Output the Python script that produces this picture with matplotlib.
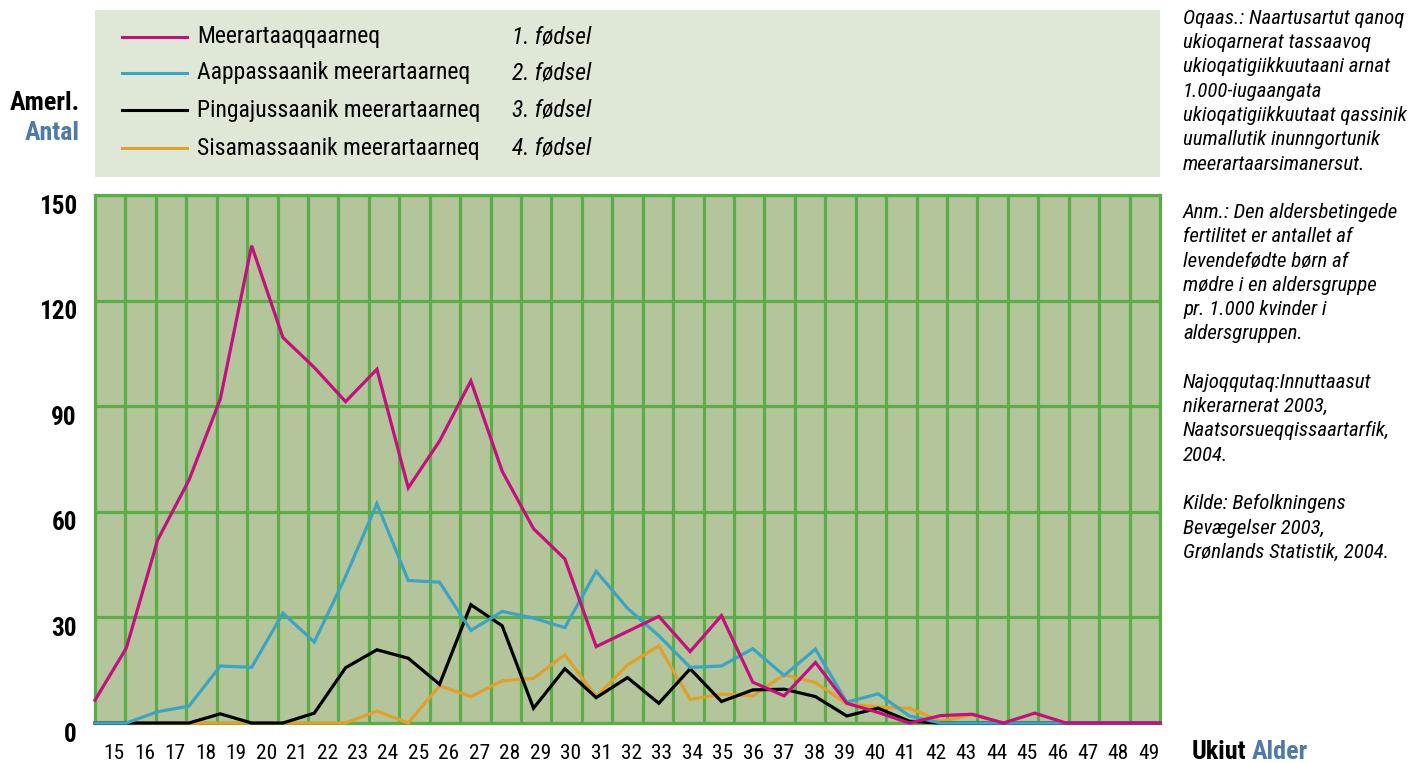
import numpy as np
import matplotlib
matplotlib.use("Agg")
import matplotlib.pyplot as plt
from matplotlib import font_manager
from matplotlib.lines import Line2D
from matplotlib.patches import Rectangle
import matplotlib.transforms as mtransforms

# Age-specific fertility by birth order, per 1000 women
ages = list(range(15, 50))
first_birth = [6.5, 21.3, 52, 69, 92, 135.6, 109.5, 101, 91.3, 100.5,
               66.8, 80.1, 97.2, 71.5, 55.2, 46.6, 21.7, 26, 30.3, 20.3,
               30.5, 11.6, 7.7, 17.2, 5.6, 3, 0, 2.1, 2.5, 0,
               2.8, 0, 0, 0, 0]
second_birth = [0, 0, 3.2, 4.8, 16.2, 15.8, 31.2, 23, 41.6, 62.3,
                40.5, 40, 26.3, 31.7, 29.8, 27.1, 43.1, 32.6, 24.8, 15.8,
                16.2, 21.1, 13.5, 21, 5.9, 8.3, 2, 0, 0, 0,
                0, 0, 0, 0, 0]
third_birth = [0, 0, 0, 0, 2.6, 0, 0, 2.8, 15.7, 20.8,
               18.4, 11, 33.6, 27.6, 4.2, 15.4, 7.2, 12.9, 5.6, 15.4,
               6.1, 9.4, 9.6, 7.5, 2, 4.2, 0.5, 0, 0, 0,
               0, 0, 0, 0, 0]
fourth_birth = [0, 0, 0, 0, 0, 0, 0, 0, 0, 3.4,
                0, 10.6, 7.5, 12, 12.7, 19.4, 7.5, 16.5, 21.9, 6.7,
                8.2, 7.7, 13.7, 11.5, 5.5, 4.5, 4.2, 0.5, 2.3, 0,
                0, 0, 0, 0, 0]

labels_kl = ["Meerartaaqqaarneq", "Aappassaanik meerartaarneq",
             "Pingajussaanik meerartaarneq", "Sisamassaanik meerartaarneq"]
labels_da = ["1. fødsel", "2. fødsel", "3. fødsel", "4. fødsel"]
y_ticks = [0, 30, 60, 90, 120, 150]

notes = ("Oqaas.: Naartusartut qanoq\nukioqarnerat tassaavoq\n"
         "ukioqatigiikkuutaani arnat\n1.000-iugaangata\n"
         "ukioqatigiikkuutaat qassinik\nuumallutik inunngortunik\n"
         "meerartaarsimanersut.\n\n"
         "Anm.: Den aldersbetingede\nfertilitet er antallet af\n"
         "levendefødte børn af\nmødre i en aldersgruppe\n"
         "pr. 1.000 kvinder i\naldersgruppen.\n\n"
         "Najoqqutaq:Innuttaasut\nnikerarnerat 2003,\n"
         "Naatsorsueqqissaartarfik,\n2004.\n\n"
         "Kilde: Befolkningens\nBevægelser 2003,\n"
         "Grønlands Statistik, 2004.")

# look for a narrow sans font, the original uses a condensed grotesque
installed = {f.name for f in font_manager.fontManager.ttflist}
narrow = None
for cand in ['Liberation Sans Narrow', 'Roboto Condensed', 'Open Sans Condensed',
             'Nimbus Sans Narrow', 'Arial Narrow']:
    if cand in installed:
        narrow = cand
        break
stretch = 'normal'
if narrow is None:
    if any(f.name == 'DejaVu Sans' and f.stretch == 'condensed'
           for f in font_manager.fontManager.ttflist):
        narrow = 'DejaVu Sans'
        stretch = 'condensed'
        scale = 0.95
    else:
        narrow = 'Liberation Sans'
        scale = 0.9
else:
    scale = 1.1

plt.rcParams['font.family'] = [narrow, 'Liberation Sans', 'DejaVu Sans']
plt.rcParams['font.stretch'] = stretch

MAGENTA = '#c2107f'
CYAN = '#3ea3c3'
BLACK = '#000000'
ORANGE = '#e0a02c'
GRID = '#5aad47'
PLOT_BG = '#b4c59b'
BOX_BG = '#dfe8d6'
BLUE_TXT = '#4f7aa8'

W, H = 1419, 763
fig = plt.figure(figsize=(W / 100, H / 100), dpi=100)


def fx(px):
    return px / W


def fy(py):
    return 1 - py / H


ax = fig.add_axes([fx(95), fy(723), fx(1160) - fx(95), fy(195) - fy(723)])
ax.set_facecolor(PLOT_BG)
ax.set_xlim(ages[0], ages[-1])
ax.set_ylim(y_ticks[0], y_ticks[-1])

# grid: 35 cells across, one per age
n = len(ages)
edges = np.linspace(ages[0], ages[-1], n + 1)
centers = (edges[:-1] + edges[1:]) / 2
ax.vlines(edges, y_ticks[0], y_ticks[-1], color=GRID, lw=2.3, zorder=1)
ax.hlines(y_ticks, ages[0], ages[-1], color=GRID, lw=2.3, zorder=1)
for s in ax.spines.values():
    s.set_color(GRID)
    s.set_linewidth(2.3)

series = [(fourth_birth, ORANGE), (third_birth, BLACK),
          (second_birth, CYAN), (first_birth, MAGENTA)]
for z, (vals, col) in enumerate(series):
    ax.plot(ages, vals, color=col, lw=2.3, zorder=3 + z, solid_joinstyle='miter',
            clip_on=False)

ax.set_xticks(centers)
ax.set_xticklabels([str(a) for a in ages], fontsize=14 * scale)
ax.set_yticks(y_ticks)
ax.set_yticklabels([str(v) for v in y_ticks], fontsize=16.5 * scale, fontweight='bold')
ax.tick_params(length=0)
ax.tick_params(axis='x', pad=15)
ax.tick_params(axis='y', pad=13)
dx = mtransforms.ScaledTranslation(4 / 100, 0, fig.dpi_scale_trans)
for lab in ax.get_xticklabels():
    lab.set_transform(lab.get_transform() + dx)
dy = mtransforms.ScaledTranslation(0, -9 / 100, fig.dpi_scale_trans)
for lab in ax.get_yticklabels():
    lab.set_transform(lab.get_transform() + dy)

# legend box
fig.add_artist(Rectangle((fx(95), fy(177)), fx(1160) - fx(95), fy(10) - fy(177),
                         transform=fig.transFigure, facecolor=BOX_BG,
                         edgecolor='none', zorder=0))
rows = [37, 73, 110, 148]
leg_colors = [MAGENTA, CYAN, BLACK, ORANGE]
for ry, col, kl, da in zip(rows, leg_colors, labels_kl, labels_da):
    fig.add_artist(Line2D([fx(122), fx(187)], [fy(ry), fy(ry)], color=col, lw=2.2,
                          transform=fig.transFigure))
    fig.text(fx(197), fy(ry), kl, fontsize=15.5 * scale, va='center', ha='left')
    fig.text(fx(512), fy(ry), da, fontsize=15.5 * scale, va='center', ha='left',
             style='italic')

fig.text(fx(80), fy(103), "Amerl.", fontsize=17 * scale, fontweight='bold',
         ha='right', va='center')
fig.text(fx(80), fy(133), "Antal", fontsize=17 * scale, fontweight='bold',
         ha='right', va='center', color=BLUE_TXT)

fig.text(fx(1192), fy(752), "Ukiut", fontsize=17 * scale, fontweight='bold',
         ha='left', va='center')
fig.text(fx(1252), fy(752), "Alder", fontsize=17 * scale, fontweight='bold',
         ha='left', va='center', color=BLUE_TXT)

fig.text(fx(1183), fy(9), notes, fontsize=13.5 if scale < 1 else 15, style='italic',
         ha='left', va='top', linespacing=1.43 if scale < 1 else 1.35)

fig.savefig("out.png", dpi=100)
